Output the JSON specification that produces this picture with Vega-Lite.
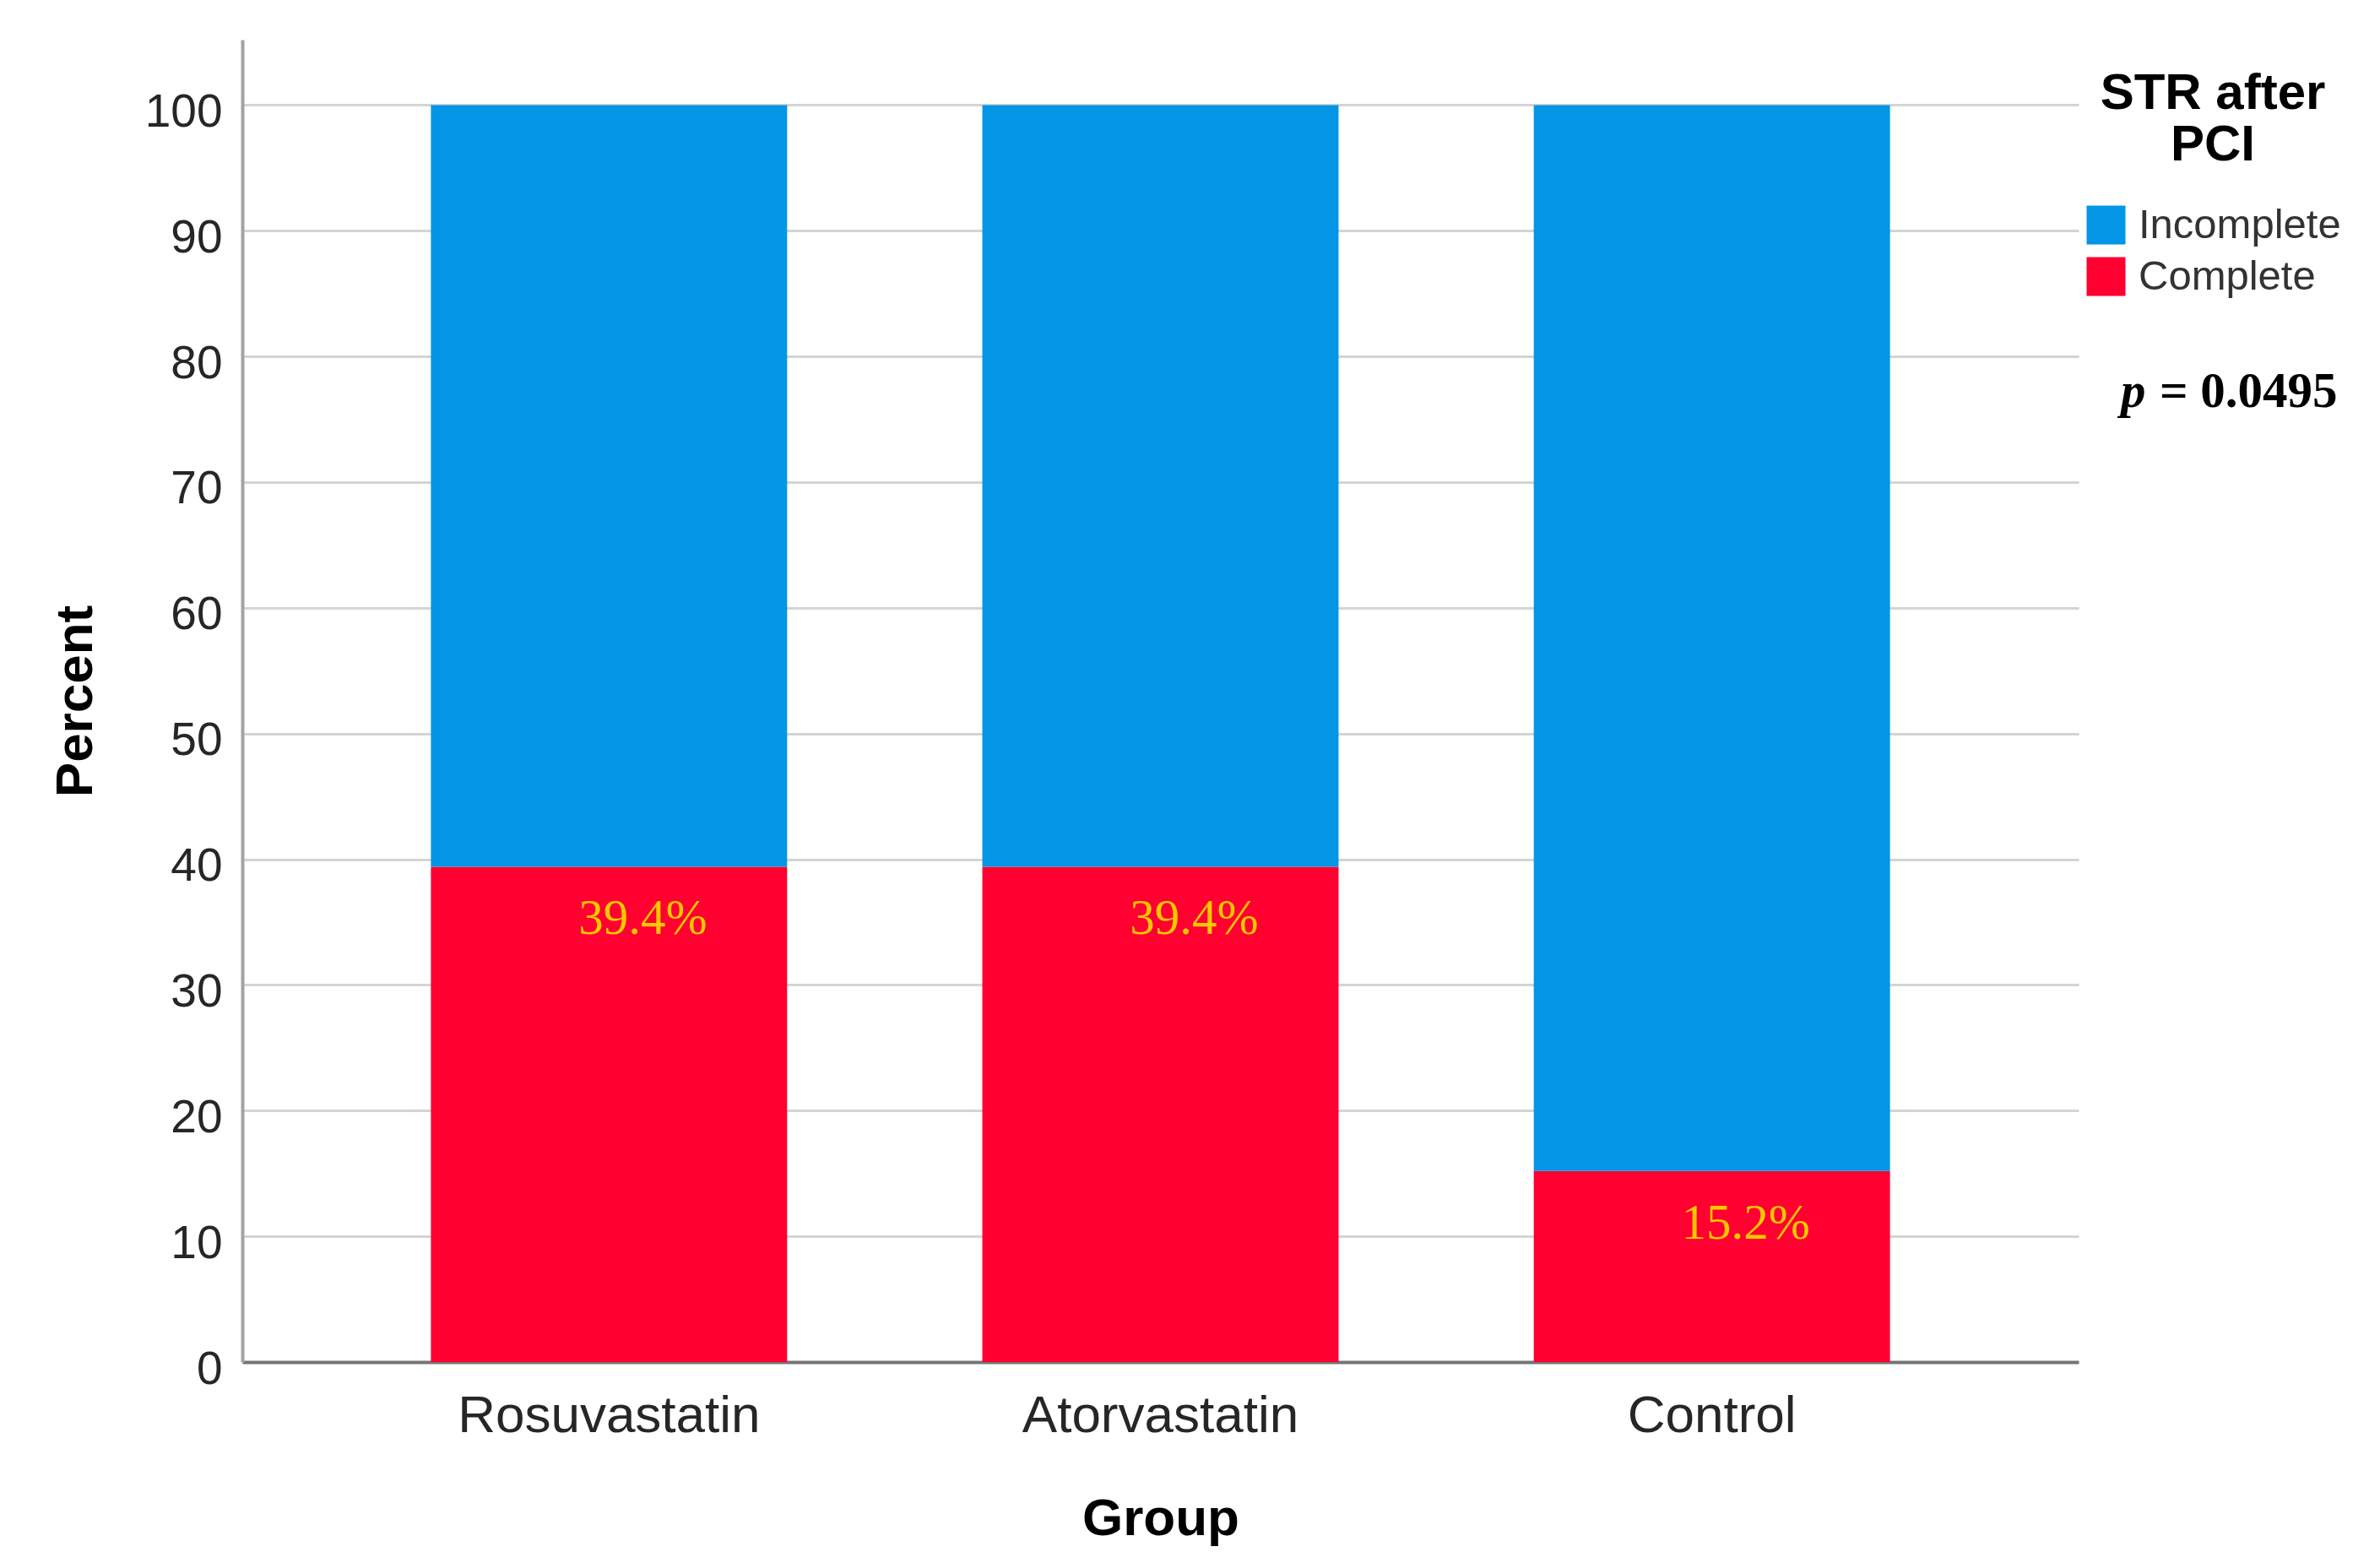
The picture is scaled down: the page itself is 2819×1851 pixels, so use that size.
{
  "$schema": "https://vega.github.io/schema/vega-lite/v6.json",
  "width": 2175,
  "height": 1566,
  "autosize": {"type": "none"},
  "padding": {"left": 287, "top": 47, "right": 357, "bottom": 238},
  "background": "white",
  "config": {
    "view": {"stroke": null},
    "axis": {"ticks": false, "tickSize": 0, "labelLimit": 0, "titleLimit": 0},
    "legend": {"labelLimit": 0, "titleLimit": 0}
  },
  "datasets": {
    "str": [
      {"group": "Rosuvastatin", "status": "Complete", "percent": 39.4, "label": "39.4%"},
      {"group": "Rosuvastatin", "status": "Incomplete", "percent": 60.6, "label": "60.6%"},
      {"group": "Atorvastatin", "status": "Complete", "percent": 39.4, "label": "39.4%"},
      {"group": "Atorvastatin", "status": "Incomplete", "percent": 60.6, "label": "60.6%"},
      {"group": "Control", "status": "Complete", "percent": 15.2, "label": "15.2%"},
      {"group": "Control", "status": "Incomplete", "percent": 84.8, "label": "84.8%"}
    ],
    "note": [
      {"label": "= 0.0495"}
    ]
  },
  "layer": [
    {
      "data": {"name": "str"},
      "mark": {"type": "bar"},
      "encoding": {
        "x": {
          "field": "group", "type": "nominal",
          "sort": ["Rosuvastatin", "Atorvastatin", "Control"],
          "scale": {"paddingInner": 0.354, "paddingOuter": 0.342},
          "axis": {
            "title": "Group", "labelAngle": 0,
            "labelFont": "Liberation Sans",
            "labelFontSize": 62, "labelColor": "#262626", "labelPadding": 33,
            "titleFont": "Liberation Sans", "titleFontWeight": "bold", "titleFontSize": 62,
            "titleColor": "black", "titlePadding": 61,
            "domainColor": "#747474", "domainWidth": 4, "grid": false, "ticks": false
          }
        },
        "y": {
          "field": "percent", "type": "quantitative", "stack": "zero",
          "scale": {"domain": [0, 105.2], "nice": false, "zero": true},
          "axis": {
            "title": "Percent",
            "values": [0, 10, 20, 30, 40, 50, 60, 70, 80, 90, 100],
            "labelFont": "Liberation Sans",
            "labelFontSize": 55, "labelColor": "#262626", "labelPadding": 24, "labelOffset": 8,
            "titleFont": "Liberation Sans", "titleFontWeight": "bold", "titleFontSize": 62,
            "titleColor": "black", "titlePadding": 50,
            "domainColor": "#A3A3A3", "domainWidth": 4,
            "grid": true, "gridColor": "#D4D4D4", "gridWidth": 3, "ticks": false
          }
        },
        "color": {
          "field": "status", "type": "nominal",
          "scale": {"domain": ["Incomplete", "Complete"], "range": ["#0396E6", "#FF0030"]},
          "legend": {
            "orient": "none", "legendX": 2183, "legendY": 35, "padding": 0,
            "title": ["STR after", "PCI"],
            "titleFont": "Liberation Sans", "titleFontWeight": "bold", "titleFontSize": 60,
            "titleLineHeight": 61, "titleAlign": "center", "titleAnchor": "middle",
            "titleColor": "black", "titlePadding": 39,
            "symbolType": "square", "symbolSize": 2116, "symbolStrokeWidth": 0, "symbolOpacity": 1,
            "labelFont": "Liberation Sans", "labelFontSize": 49, "labelColor": "#333333",
            "labelOffset": 14, "rowPadding": 11
          }
        },
        "order": {"field": "status", "sort": "ascending"}
      }
    },
    {
      "data": {"name": "str"},
      "transform": [{"filter": {"field": "status", "equal": "Complete"}}],
      "mark": {
        "type": "text", "align": "center", "baseline": "alphabetic",
        "dx": 40, "dy": 80,
        "font": "Liberation Serif", "fontSize": 59, "color": "#FFC800"
      },
      "encoding": {
        "x": {"field": "group", "type": "nominal", "sort": ["Rosuvastatin", "Atorvastatin", "Control"]},
        "y": {"field": "percent", "type": "quantitative"},
        "text": {"field": "label", "type": "nominal"}
      }
    },
    {
      "data": {"name": "note"},
      "mark": {"type": "point", "opacity": 0, "size": 0},
      "encoding": {
        "shape": {
          "field": "label", "type": "nominal",
          "legend": {
            "orient": "none", "legendX": 2225, "legendY": 387, "padding": 0,
            "title": "p", "titleOrient": "left",
            "titleFont": "Liberation Serif", "titleFontStyle": "italic", "titleFontWeight": "bold",
            "titleFontSize": 59, "titleColor": "black", "titlePadding": 12,
            "labelFont": "Liberation Serif", "labelFontWeight": "bold", "labelFontSize": 59,
            "labelColor": "black", "labelOffset": -55,
            "symbolOpacity": 0, "symbolSize": 0, "symbolStrokeWidth": 0
          }
        }
      }
    }
  ]
}
